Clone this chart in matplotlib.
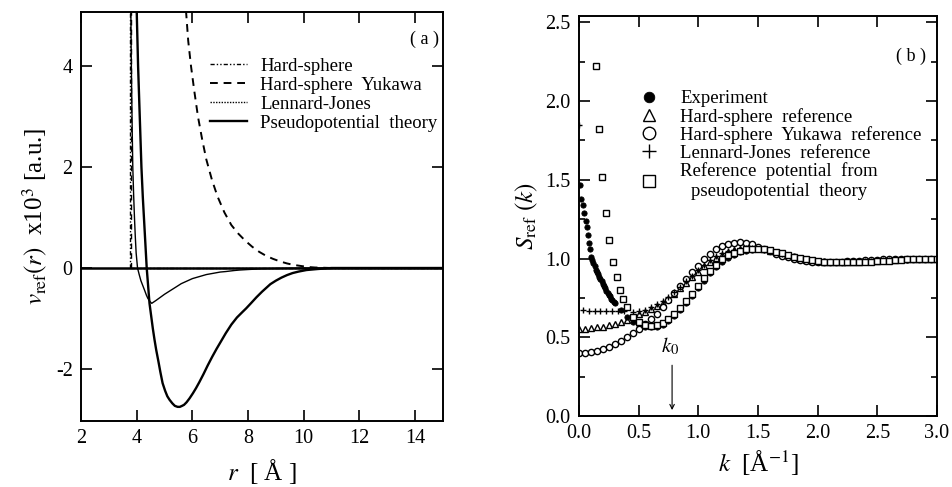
import matplotlib
matplotlib.use("Agg")
import matplotlib.pyplot as plt
from matplotlib.ticker import MultipleLocator
from matplotlib.lines import Line2D

plt.rcParams['font.family'] = ['Liberation Serif', 'DejaVu Serif']
plt.rcParams['mathtext.fontset'] = 'stix'
plt.rcParams['axes.unicode_minus'] = False

# ---------------- panel (a) data: r [A], v_ref x 10^3 [a.u.] ----------------
hs_wall_r = [3.75, 3.75]
hs_wall_v = [0.0, 5.1]
hs_flat_r = [3.75, 15.0]
hs_flat_v = [0.0, 0.0]

hsy_wall_r = [3.80, 3.80]
hsy_wall_v = [0.0, 5.1]
hsy_r = [5.77, 5.85, 5.95, 6.07, 6.2, 6.35, 6.5, 6.7, 6.9, 7.15, 7.4, 7.65, 7.9, 8.15,
         8.4, 8.65, 8.9, 9.15, 9.4, 9.65, 9.9, 10.15, 10.4, 11.0, 15.0]
hsy_v = [5.1, 4.5, 4.0, 3.5, 3.0, 2.55, 2.15, 1.75, 1.42, 1.1, 0.85, 0.68, 0.54, 0.42,
         0.32, 0.24, 0.18, 0.13, 0.09, 0.06, 0.04, 0.02, 0.01, 0.0, 0.0]

lj_r = [3.79, 3.80, 3.82, 3.84, 3.86, 3.89, 3.92, 3.95, 3.98, 4.03, 4.09, 4.15, 4.22,
        4.29, 4.35, 4.40, 4.47, 4.54, 4.62, 4.70, 4.85, 5.0, 5.2, 5.43, 5.6, 5.8, 6.0,
        6.25, 6.5, 6.7, 7.0, 7.2, 7.5, 7.7, 8.0, 8.5, 9.0, 10.0, 15.0]
lj_v = [5.1, 4.4, 3.5, 2.7, 2.0, 1.45, 1.0, 0.62, 0.3, 0.0, -0.13, -0.25, -0.35,
        -0.45, -0.54, -0.60, -0.66, -0.70, -0.67, -0.64, -0.58, -0.52, -0.45, -0.37,
        -0.31, -0.26, -0.21, -0.17, -0.13, -0.11, -0.08, -0.07, -0.05, -0.04, -0.03,
        -0.015, -0.01, 0.0, 0.0]

pp_r = [4.00, 4.05, 4.11, 4.17, 4.22, 4.27, 4.32, 4.36, 4.41, 4.46, 4.52, 4.58, 4.64,
        4.70, 4.78, 4.85, 4.93, 5.02, 5.10, 5.18, 5.28, 5.37, 5.47, 5.55, 5.63, 5.70,
        5.79, 5.90, 6.02, 6.13, 6.25, 6.40, 6.55, 6.71, 6.87, 7.03, 7.2, 7.4, 7.6, 7.8,
        7.93, 8.1, 8.3, 8.5, 8.64, 8.8, 9.0, 9.2, 9.4, 9.6, 9.82, 10.1, 10.5, 11.0, 15.0]
pp_v = [5.1, 4.0, 3.0, 2.0, 1.4, 0.9, 0.4, 0.0, -0.35, -0.70, -0.95, -1.2, -1.42,
        -1.62, -1.85, -2.06, -2.28, -2.43, -2.54, -2.61, -2.68, -2.73, -2.75, -2.75,
        -2.73, -2.71, -2.66, -2.58, -2.48, -2.38, -2.26, -2.10, -1.93, -1.76, -1.60,
        -1.45, -1.29, -1.12, -0.98, -0.87, -0.80, -0.70, -0.58, -0.47, -0.40, -0.32,
        -0.25, -0.19, -0.14, -0.10, -0.07, -0.04, -0.02, 0.0, 0.0]

# ---------------- panel (b) data: k [1/A], S_ref(k) ----------------
k_grid = [0.00, 0.05, 0.10, 0.15, 0.20, 0.25, 0.30, 0.35, 0.40, 0.45, 0.50, 0.55, 0.60,
          0.65, 0.70, 0.75, 0.80, 0.85, 0.90, 0.95, 1.00, 1.05, 1.10, 1.15, 1.20, 1.25,
          1.30, 1.35, 1.40, 1.45, 1.50, 1.55, 1.60, 1.65, 1.70, 1.75, 1.80, 1.85, 1.90,
          1.95, 2.00, 2.05, 2.10, 2.15, 2.20, 2.25, 2.30, 2.35, 2.40, 2.45, 2.50, 2.55,
          2.60, 2.65, 2.70, 2.75, 2.80, 2.85, 2.90, 2.95, 3.00]

hs_s = [0.55, 0.553, 0.557, 0.562, 0.568, 0.576, 0.586, 0.598, 0.612, 0.628, 0.645, 0.662,
        0.68, 0.70, 0.72, 0.745, 0.775, 0.81, 0.845, 0.88, 0.915, 0.95, 0.98, 1.005, 1.025,
        1.04, 1.052, 1.06, 1.065, 1.066, 1.064, 1.058, 1.05, 1.04, 1.03, 1.02, 1.01, 1.0,
        0.993, 0.987, 0.983, 0.98, 0.978, 0.977, 0.977, 0.978, 0.979, 0.98, 0.982, 0.984,
        0.986, 0.988, 0.99, 0.992, 0.994, 0.995, 0.996, 0.997, 0.998, 0.999, 1.0]

hsy_s = [0.40, 0.402, 0.407, 0.415, 0.426, 0.44, 0.457, 0.477, 0.50, 0.525, 0.553, 0.583,
         0.615, 0.65, 0.69, 0.735, 0.78, 0.825, 0.87, 0.915, 0.955, 0.995, 1.03, 1.058,
         1.078, 1.092, 1.10, 1.104, 1.10, 1.09, 1.076, 1.06, 1.045, 1.03, 1.018, 1.007,
         0.998, 0.99, 0.985, 0.981, 0.979, 0.978, 0.978, 0.979, 0.98, 0.982, 0.984, 0.986,
         0.988, 0.99, 0.992, 0.994, 0.995, 0.996, 0.997, 0.998, 0.999, 1.0, 1.0, 1.0, 1.0]

lj_k = [0.00, 0.03, 0.08, 0.13, 0.18, 0.23, 0.28, 0.33, 0.38, 0.45, 0.50, 0.55, 0.60, 0.65,
        0.70, 0.75, 0.80, 0.85, 0.90, 0.95, 1.00, 1.05, 1.10, 1.15, 1.20, 1.25, 1.30, 1.35,
        1.40, 1.45, 1.50, 1.55, 1.60, 1.65, 1.70, 1.75, 1.80, 1.85, 1.90, 1.95, 2.00, 2.05,
        2.10, 2.15, 2.20, 2.25, 2.30, 2.35, 2.40, 2.45, 2.50, 2.55, 2.60, 2.65, 2.70, 2.75,
        2.80, 2.85, 2.90, 2.95, 3.00]
lj_s = [1.85, 0.67, 0.668, 0.666, 0.665, 0.665, 0.665, 0.666, 0.668, 0.66, 0.665, 0.675,
        0.69, 0.71, 0.73, 0.755, 0.785, 0.82, 0.855, 0.89, 0.925, 0.96, 0.99, 1.013, 1.032,
        1.046, 1.056, 1.062, 1.066, 1.066, 1.063, 1.057, 1.049, 1.04, 1.03, 1.02, 1.01,
        1.001, 0.994, 0.988, 0.984, 0.981, 0.979, 0.978, 0.978, 0.979, 0.98, 0.981, 0.983,
        0.985, 0.987, 0.989, 0.991, 0.993, 0.994, 0.995, 0.996, 0.997, 0.998, 0.999, 1.0]

pp_k = [0.14, 0.17, 0.195, 0.225, 0.25, 0.285, 0.315, 0.34, 0.37, 0.40, 0.45, 0.50, 0.55,
        0.60, 0.65, 0.70, 0.75, 0.80, 0.85, 0.90, 0.95, 1.00, 1.05, 1.10, 1.15, 1.20, 1.25,
        1.30, 1.35, 1.40, 1.45, 1.50, 1.55, 1.60, 1.65, 1.70, 1.75, 1.80, 1.85, 1.90, 1.95,
        2.00, 2.05, 2.10, 2.15, 2.20, 2.25, 2.30, 2.35, 2.40, 2.45, 2.50, 2.55, 2.60, 2.65,
        2.70, 2.75, 2.80, 2.85, 2.90, 2.95, 3.00]
pp_s = [2.22, 1.82, 1.52, 1.29, 1.12, 0.98, 0.88, 0.80, 0.74, 0.69, 0.63, 0.595, 0.575,
        0.57, 0.577, 0.592, 0.615, 0.647, 0.685, 0.728, 0.775, 0.825, 0.875, 0.922, 0.962,
        0.995, 1.02, 1.038, 1.05, 1.058, 1.062, 1.062, 1.058, 1.051, 1.042, 1.032, 1.022,
        1.012, 1.003, 0.995, 0.989, 0.984, 0.98, 0.977, 0.975, 0.975, 0.975, 0.976, 0.977,
        0.978, 0.98, 0.982, 0.985, 0.987, 0.99, 0.992, 0.994, 0.996, 0.998, 0.999, 1.0, 1.0]

exp_k = [0.01, 0.02, 0.03, 0.04, 0.055, 0.065, 0.075, 0.085, 0.09,
         0.10, 0.11, 0.12, 0.13, 0.14, 0.15, 0.16, 0.17, 0.18, 0.19, 0.20, 0.21, 0.22,
         0.23, 0.24, 0.25, 0.26, 0.27, 0.28, 0.29, 0.30,
         0.35, 0.40, 0.45, 0.50, 0.55, 0.60, 0.65, 0.70, 0.75, 0.80, 0.85, 0.90, 0.95,
         1.00, 1.05, 1.10, 1.15, 1.20, 1.25, 1.30, 1.35, 1.40, 1.45, 1.50, 1.55, 1.60,
         1.65, 1.70, 1.75, 1.80, 1.85, 1.90, 1.95, 2.00, 2.05, 2.10, 2.15, 2.20, 2.25,
         2.30, 2.35, 2.40, 2.45, 2.50, 2.55, 2.60, 2.65, 2.70, 2.75, 2.80, 2.85, 2.90,
         2.95, 3.00]
exp_s = [1.47, 1.38, 1.34, 1.29, 1.24, 1.20, 1.15, 1.10, 1.06,
         1.01, 0.99, 0.97, 0.95, 0.93, 0.915, 0.90, 0.885, 0.87, 0.855, 0.84, 0.825, 0.81,
         0.795, 0.78, 0.77, 0.76, 0.745, 0.735, 0.725, 0.72,
         0.67, 0.63, 0.60, 0.58, 0.567, 0.562, 0.566, 0.58, 0.603, 0.635, 0.672, 0.715,
         0.76, 0.81, 0.86, 0.905, 0.945, 0.98, 1.005, 1.025, 1.04, 1.05, 1.057, 1.06,
         1.058, 1.052, 1.044, 1.035, 1.025, 1.015, 1.006, 0.998, 0.991, 0.986, 0.982,
         0.979, 0.977, 0.976, 0.976, 0.976, 0.977, 0.978, 0.98, 0.982, 0.984, 0.987,
         0.989, 0.991, 0.993, 0.995, 0.997, 0.998, 0.999, 1.0]

k0_value = 0.78

# ---------------- figure ----------------
fig = plt.figure(figsize=(9.53, 4.87), dpi=100)
W, H = 953, 487
axA = fig.add_axes([81 / W, 1 - 421 / H, (443 - 81) / W, (421 - 12) / H])
axB = fig.add_axes([579 / W, 1 - 416 / H, (937 - 579) / W, (416 - 16) / H])

TICK_FS = 14.5
for ax in (axA, axB):
    for s in ax.spines.values():
        s.set_linewidth(1.4)
    ax.tick_params(which='both', direction='in', top=True, right=True,
                   labelsize=TICK_FS, width=1.2, pad=6)
    ax.tick_params(which='major', length=8)
    ax.tick_params(which='minor', length=4)

# panel (a)
hs_ls = (0, (3, 1.5, 1, 1.5, 1, 1.5))
hsy_ls = (0, (4, 3))
axA.axhline(0.0, color='black', lw=1.8, zorder=1)
axA.plot(hs_wall_r, hs_wall_v, color='black', lw=1.0, ls=hs_ls)
axA.plot(hs_flat_r, hs_flat_v, color='black', lw=1.0, ls=hs_ls)
axA.plot(hsy_wall_r, hsy_wall_v, color='black', lw=1.0, ls=hsy_ls)
axA.plot(hsy_r, hsy_v, color='black', lw=1.4, ls=hsy_ls)
axA.plot(lj_r, lj_v, color='black', lw=1.0, ls='-')
axA.plot(pp_r, pp_v, color='black', lw=1.7, ls='-')
axA.set_xlim(2, 15)
axA.set_ylim(-3.03, 5.07)
axA.xaxis.set_major_locator(MultipleLocator(2))
axA.yaxis.set_major_locator(MultipleLocator(2))
axA.set_xlabel(r'$r$  [ Å ]', fontsize=18, labelpad=6)
axA.set_ylabel(r'$v_{\rm ref}(r)$  x10$^3$ [a.u.]', fontsize=18, labelpad=4)
axA.text(0.99, 0.955, '( a )', transform=axA.transAxes, ha='right', va='top', fontsize=13)

handlesA = [Line2D([], [], color='black', lw=1.0, ls=hs_ls),
            Line2D([], [], color='black', lw=1.4, ls=hsy_ls),
            Line2D([], [], color='black', lw=1.0, ls=(0, (1, 1))),
            Line2D([], [], color='black', lw=1.7, ls='-')]
labelsA = ['Hard-sphere', 'Hard-sphere  Yukawa', 'Lennard-Jones', 'Pseudopotential  theory']
legA = axA.legend(handlesA, labelsA, loc='upper left', bbox_to_anchor=(0.356, 0.888),
                  frameon=False, fontsize=13.5, handlelength=2.0, handletextpad=0.7,
                  labelspacing=0.1, borderpad=0, borderaxespad=0)

# panel (b)
axB.plot(exp_k, exp_s, ls='none', marker='o', ms=3.8, mfc='black', mec='black', mew=0.6,
         label='Experiment')
axB.plot(k_grid, hs_s, ls='none', marker='^', ms=4.2, mfc='none', mec='black', mew=1.0,
         label='Hard-sphere  reference')
axB.plot(k_grid, hsy_s, ls='none', marker='o', ms=4.5, mfc='white', mec='black', mew=1.0,
         label='Hard-sphere  Yukawa  reference')
axB.plot(lj_k, lj_s, ls='none', marker='+', ms=5, mec='black', mew=1.0,
         label='Lennard-Jones  reference')
axB.plot(pp_k, pp_s, ls='none', marker='s', ms=4.0, mfc='white', mec='black', mew=1.0,
         label='Reference  potential  from\npseudopotential  theory')
axB.set_xlim(0, 3.0)
axB.set_ylim(0, 2.54)
axB.xaxis.set_major_locator(MultipleLocator(0.5))
axB.yaxis.set_major_locator(MultipleLocator(0.5))
axB.yaxis.set_minor_locator(MultipleLocator(0.25))
axB.xaxis.set_major_formatter(plt.FuncFormatter(lambda v, p: f'{v:.1f}'))
axB.yaxis.set_major_formatter(plt.FuncFormatter(lambda v, p: f'{v:.1f}'))
axB.set_xlabel(r'$k$  [Å$^{-1}$]', fontsize=18, labelpad=4)
axB.set_ylabel(r'$S_{\rm ref}$ $(k)$', fontsize=18, labelpad=4)
axB.text(0.97, 0.92, '( b )', transform=axB.transAxes, ha='right', va='top', fontsize=13)

axB.annotate('', xy=(k0_value, 0.02), xytext=(k0_value, 0.34),
             arrowprops=dict(arrowstyle='->', color='black', lw=0.8, mutation_scale=8))
axB.text(k0_value - 0.02, 0.37, r'$k_0$', ha='center', va='bottom', fontsize=15)

legB = axB.legend(loc='upper left', bbox_to_anchor=(0.168, 0.815), frameon=False,
                  fontsize=13.5, markerscale=2.0, handlelength=1.0, handletextpad=1.2,
                  labelspacing=0.03, borderpad=0, borderaxespad=0, numpoints=1)
legB.get_texts()[-1].set_multialignment('center')

fig.savefig('out.png', dpi=100)
